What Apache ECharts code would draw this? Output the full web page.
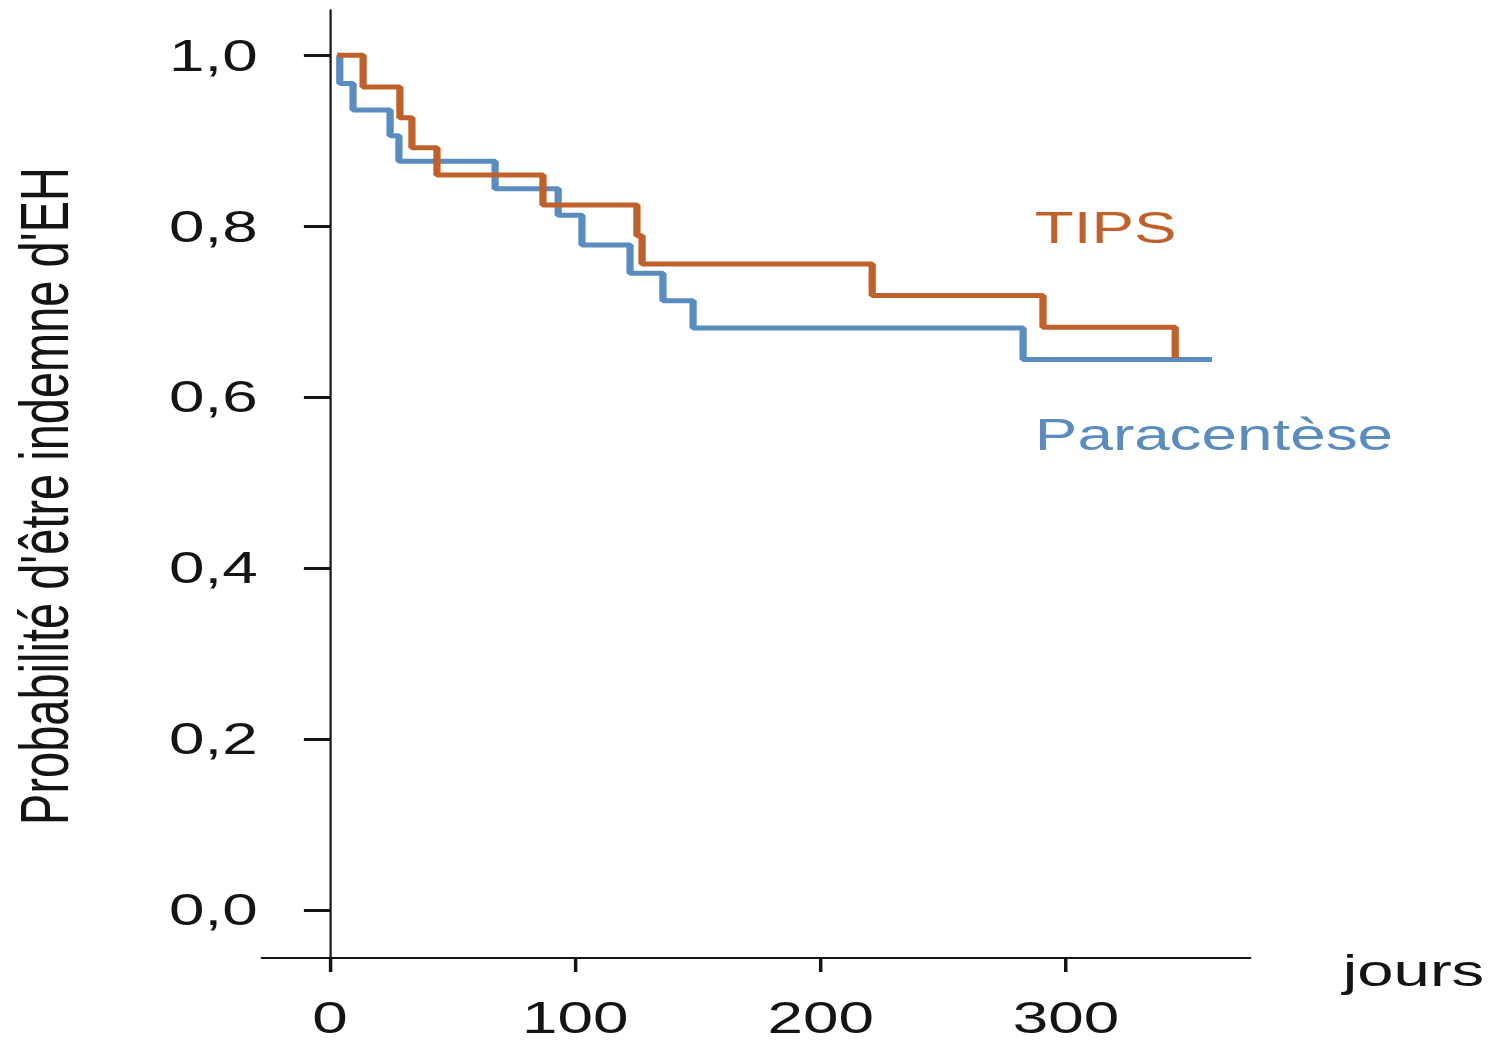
<!DOCTYPE html>
<html>
<head>
<meta charset="utf-8">
<title>Probabilité d'être indemne d'EH</title>
<script src="https://cdn.jsdelivr.net/npm/echarts@6/dist/echarts.min.js"></script>
<style>
  html, body { margin: 0; padding: 0; background: #fff; overflow: hidden; }
  /* the source figure is stretched sideways, so the chart is drawn narrow and widened */
  #chart { width: 1031px; height: 1042px; transform-origin: 0 0; transform: scaleX(1.45); }
</style>
</head>
<body>
<div id="chart"></div>
<script>
// Kaplan-Meier steps (days, probability)
const tipsDays = [3, 13.5, 28.5, 33.4, 43.6, 86.8, 125.1, 127.2, 221, 290.6, 344.5]
const tipsSurv = [1.0, 0.963, 0.927, 0.892, 0.86, 0.825, 0.789, 0.756, 0.719, 0.682, 0.646]

const paraDays = [3, 4, 9.4, 24.5, 28.1, 67.3, 93, 102.7, 122.3, 135.7, 148, 282.5, 359.5]
const paraSurv = [1.0, 0.967, 0.936, 0.906, 0.876, 0.844, 0.813, 0.778, 0.745, 0.713, 0.681, 0.644, 0.644]

const xTicks = [0, 100, 200, 300]
const yTicks = [0, 0.2, 0.4, 0.6, 0.8, 1.0]

const tipsColor = '#c0612b'
const paraColor = '#5a8cc0'
const ink = '#141414'

const pairs = (xs, ys) => xs.map((x, i) => [x, ys[i]])
const frNum = (v) => v.toFixed(1).replace('.', ',')

const chart = echarts.init(document.getElementById('chart'), null, { renderer: 'svg' })

const noteLabel = (text, color) => ({
  show: true,
  position: 'right',
  distance: 0,
  formatter: text,
  color: color,
  fontSize: 44,
  fontFamily: 'Liberation Sans',
})

chart.setOption({
  animation: false,
  backgroundColor: '#fff',
  grid: { left: 180.7, right: 168.9, top: 10, bottom: 84, containLabel: false, outerBoundsMode: 'none' },
  xAxis: {
    type: 'value',
    min: -27.7,
    max: 375,
    name: 'jours',
    nameLocation: 'end',
    nameGap: 64,
    nameTextStyle: {
      color: ink,
      fontSize: 45,
      fontFamily: 'Liberation Sans',
      verticalAlign: 'top',
      lineHeight: 24,
    },
    axisLine: { onZero: false, lineStyle: { color: ink, width: 2 } },
    axisTick: { show: true, length: 14, customValues: xTicks, lineStyle: { color: ink, width: 2.4 } },
    axisLabel: {
      customValues: xTicks,
      margin: 38,
      color: ink,
      fontSize: 44,
      fontFamily: 'Liberation Sans',
    },
    splitLine: { show: false },
  },
  yAxis: {
    type: 'value',
    min: -0.056,
    max: 1.053,
    name: "Probabilité d'être indemne d'EH",
    nameLocation: 'middle',
    nameRotate: 90,
    // labels and name sit from the grid edge, the line itself sits on x = 0
    nameGap: 127,
    nameTextStyle: { color: ink, fontSize: 47, fontFamily: 'Liberation Sans', padding: [0, 24, 0, 0] },
    axisLine: { onZero: true, lineStyle: { color: ink, width: 1.5 } },
    axisTick: { show: true, length: 18, customValues: yTicks, lineStyle: { color: ink, width: 3 } },
    axisLabel: {
      customValues: yTicks,
      margin: 3,
      color: ink,
      fontSize: 44,
      fontFamily: 'Liberation Sans',
      formatter: frNum,
    },
    splitLine: { show: false },
  },
  series: [
    {
      name: 'Paracentèse',
      type: 'line',
      step: 'end',
      symbol: 'none',
      data: pairs(paraDays, paraSurv),
      lineStyle: { color: paraColor, width: 5 },
      itemStyle: { color: paraColor },
      markPoint: {
        symbol: 'circle',
        symbolSize: 1,
        itemStyle: { color: 'rgba(0,0,0,0)' },
        label: noteLabel('Paracentèse', paraColor),
        data: [{ coord: [287, 0.556] }],
      },
    },
    {
      name: 'TIPS',
      type: 'line',
      step: 'end',
      symbol: 'none',
      data: pairs(tipsDays, tipsSurv),
      lineStyle: { color: tipsColor, width: 5 },
      itemStyle: { color: tipsColor },
      markPoint: {
        symbol: 'circle',
        symbolSize: 1,
        itemStyle: { color: 'rgba(0,0,0,0)' },
        label: noteLabel('TIPS', tipsColor),
        data: [{ coord: [287, 0.798] }],
      },
    },
  ],
})
</script>
</body>
</html>
